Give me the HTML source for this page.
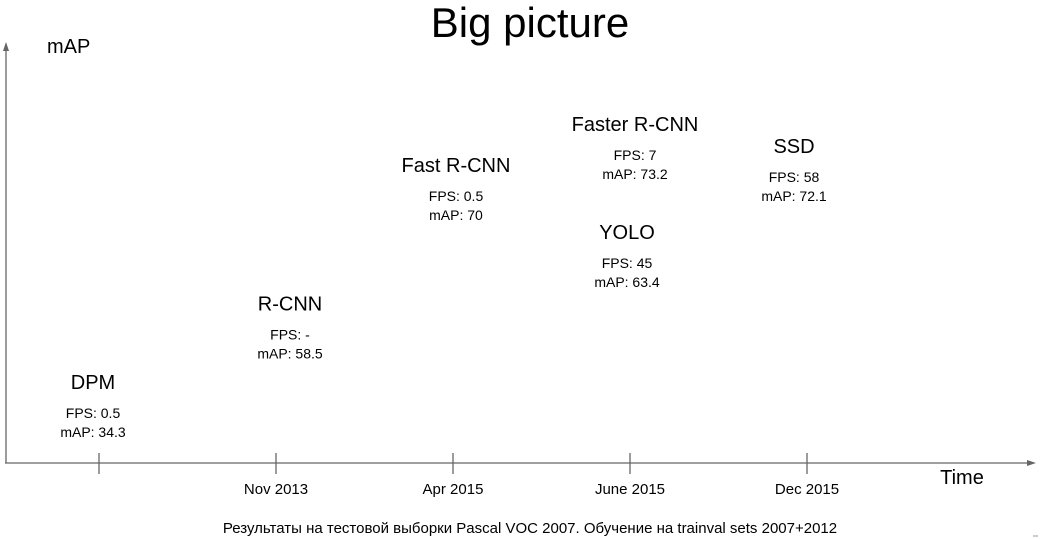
<!DOCTYPE html>
<html><head><meta charset="utf-8"><style>
html,body{margin:0;padding:0;background:#fff;}
svg{display:block;font-family:"Liberation Sans",Arial,sans-serif;}
</style></head><body>
<svg id="chart" width="1042" height="539" viewBox="0 0 1042 539">
<text x="530" y="37" font-size="42" text-anchor="middle" fill="#000">Big picture</text>
<text x="47" y="53" font-size="20" fill="#000">mAP</text>
<line x1="6" y1="463" x2="6" y2="44" stroke="#666" stroke-width="1.3"/>
<path d="M3,51 L6,42 L9,51 Z" fill="#666"/>
<line x1="5" y1="463" x2="1030" y2="463" stroke="#666" stroke-width="1.3"/>
<path d="M1027,460 L1036,463 L1027,466 Z" fill="#666"/>
<text x="962" y="484" font-size="20" text-anchor="middle" fill="#000">Time</text>
<g id="ticks"></g>
<g id="marks"></g>
<text x="530" y="533" font-size="15" text-anchor="middle" fill="#000">Результаты на тестовой выборки Pascal VOC 2007. Обучение на trainval sets 2007+2012</text>
<line x1="1033" y1="536" x2="1038" y2="536" stroke="#999"/>
</svg>
<script>
const tickLabels = ["", "Nov 2013", "Apr 2015", "June 2015", "Dec 2015"];
const methods = ["DPM", "R-CNN", "Fast R-CNN", "Faster R-CNN", "YOLO", "SSD"];
const periodIndex = [0, 1, 2, 3, 3, 4];
const mapValues = [34.3, 58.5, 70, 73.2, 63.4, 72.1];
const fpsValues = ["0.5", "-", "0.5", "7", "45", "58"];
const labelOffsets = [-6, 14, 3, 5, -3, -13];

const NS = "http://www.w3.org/2000/svg";
function xScale(i){ return 99 + i * 177; }
const yDom = [34, 58, 64, 70, 72, 74], yRng = [390, 318, 230, 172, 155, 115];
function yScale(v){
  if (v <= yDom[0]) return yRng[0] + (v - yDom[0]) * (yRng[1]-yRng[0])/(yDom[1]-yDom[0]);
  for (let k=0;k<yDom.length-1;k++){
    if (v <= yDom[k+1]) return yRng[k] + (v-yDom[k])*(yRng[k+1]-yRng[k])/(yDom[k+1]-yDom[k]);
  }
  const n=yDom.length-1;
  return yRng[n] + (v-yDom[n])*(yRng[n]-yRng[n-1])/(yDom[n]-yDom[n-1]);
}
function mk(tag, attrs, text){
  const e = document.createElementNS(NS, tag);
  for (const k in attrs) e.setAttribute(k, attrs[k]);
  if (text !== undefined) e.textContent = text;
  return e;
}
const tg = document.getElementById("ticks");
tickLabels.forEach((t,i)=>{
  const x = xScale(i);
  const l = mk("line",{x1:x,y1:453,x2:x,y2:474,stroke:"#666","stroke-width":1.3});
  
  
  tg.appendChild(l);
  if (t){
    const tx = mk("text",{x:x,y:494,"font-size":15,"text-anchor":"middle",fill:"#000"},t);
    
    
    tg.appendChild(tx);
  }
});
const mg = document.getElementById("marks");
methods.forEach((m,i)=>{
  const cx = xScale(periodIndex[i]) + labelOffsets[i];
  const y = yScale(mapValues[i]);
  const g = mk("g",{});
  
  
  const n = mk("text",{x:cx,y:y,"font-size":20,"text-anchor":"middle",fill:"#000"},m);
  
  
  const f = mk("text",{x:cx,y:y+29,"font-size":14,"text-anchor":"middle",fill:"#000"},"FPS: "+fpsValues[i]);
  
  
  const a = mk("text",{x:cx,y:y+48,"font-size":14,"text-anchor":"middle",fill:"#000"},"mAP: "+mapValues[i]);
  
  
  g.appendChild(n); g.appendChild(f); g.appendChild(a);
  mg.appendChild(g);
});
</script>
</body></html>
